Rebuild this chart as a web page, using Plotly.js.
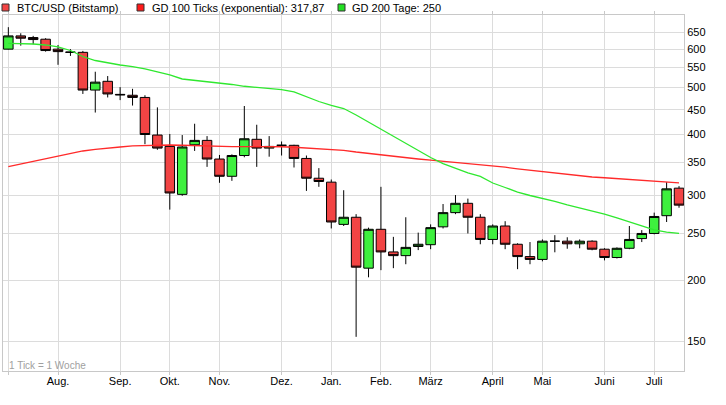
<!DOCTYPE html>
<html>
<head>
<meta charset="utf-8">
<script src="https://cdn.plot.ly/plotly-3.0.1.min.js"></script>
<style>
  html, body { margin: 0; padding: 0; background: #fff; }
  #chart { width: 726px; height: 405px; }
</style>
</head>
<body>
<div id="chart"></div>
<script>
// Weekly candles (week starting Monday), BTC/USD Bitstamp
const weeks = [
  '2014-06-30','2014-07-07','2014-07-14','2014-07-21','2014-07-28','2014-08-04','2014-08-11','2014-08-18','2014-08-25',
  '2014-09-01','2014-09-08','2014-09-15','2014-09-22','2014-09-29','2014-10-06','2014-10-13','2014-10-20','2014-10-27',
  '2014-11-03','2014-11-10','2014-11-17','2014-11-24','2014-12-01','2014-12-08','2014-12-15','2014-12-22','2014-12-29',
  '2015-01-05','2015-01-12','2015-01-19','2015-01-26','2015-02-02','2015-02-09','2015-02-16','2015-02-23','2015-03-02',
  '2015-03-09','2015-03-16','2015-03-23','2015-03-30','2015-04-06','2015-04-13','2015-04-20','2015-04-27','2015-05-04',
  '2015-05-11','2015-05-18','2015-05-25','2015-06-01','2015-06-08','2015-06-15','2015-06-22','2015-06-29','2015-07-06',
  '2015-07-13'
];
const openP  = [600,639,634,629,600,592,591,494,515,484,482,477,399,378,301,381,389,356,328,362,391,375,380,380,357,325,319,
                261,270,212,255,229,225,235,237,258,276,288.5,270,243,259,237.5,224,221,241,241,238,241,232,223,233,244,250,272,310];
const highP  = [666,647,639,632,612,600,595,539,528,501,497,482,455,401,399,421,397,363,364,458,419,397,387,381,362,341,323,
                307,274,257,312,246,270,251,261,287.5,300,295,274,261,265,238.6,240,243,248,245.5,243,242,233,234,259,254,276,319,313];
const lowP   = [599,610,614,593,557,581,485,444,477,471,459,382,372,280,299,370,343,318,321,359,343,360,362,342,306,312,256,
                259,153,203,210,212,216,231,232,256,274,250,237.5,237.5,232,211,216,219,228.6,232.5,233,230.8,220,222,232,240,249,264,282.5];
const closeP = [639,632,628,596,593,591,494,513,485,483,477,400,375,303,377,389,356,328,362,392,375,378,380,357,325,320,264,
                270,213,255,229,225,234,237.5,257,276,288.5,270,243,259,237.5,224,221,241,241,238,241,232,223,233,243,250,271,309,286];
// GD 100 Ticks (exponential) and GD 200 Tage
const ema100 = [343.3,347.8,351.9,356.1,360.4,366.4,369.9,372.6,375.2,377.0,378.8,379.7,380.2,380.6,380.1,379.2,378.4,377.9,
                377.5,377.5,377.7,377.7,377.4,376.5,375.2,374.3,373.1,371.1,368.1,365.5,362.9,360.4,358.2,356.1,354.1,352.2,
                350.2,348.7,346.9,344.8,342.5,339.9,337.5,335.1,333.2,330.8,328.8,326.9,325.7,324.5,323.4,322.3,321.2,319.7,317.87];
const sma200 = [616.9,616.3,614.8,612.0,606.7,596.2,579.4,568.5,561.8,556.5,552.3,546.5,538.3,530.7,520.7,517.3,514.8,511.6,
                507.3,503.0,499.9,497.3,495.1,490.0,479.2,467.9,459.6,452.6,438.9,424.5,411.0,397.2,384.2,371.6,358.6,348.5,
                340.4,333.2,327.7,317.7,311.0,304.4,299.4,295.4,291.0,286.2,282.1,278.1,274.2,269.1,264.0,259.0,254.2,251.7,250];
const monthTickWeeks = ['2014-06-30','2014-07-28','2014-09-01','2014-09-29','2014-10-27','2014-12-01','2014-12-29',
                        '2015-01-26','2015-02-23','2015-03-30','2015-04-27','2015-06-01','2015-06-29'];
const monthLabels = ['', 'Aug.', 'Sep.', 'Okt.', 'Nov.', 'Dez.', 'Jan.', 'Feb.', 'März', 'April', 'Mai', 'Juni', 'Juli'];
const yTickVals = [150, 200, 250, 300, 350, 400, 450, 500, 550, 600, 650];
const legendLabels = ['BTC/USD (Bitstamp)', 'GD 100 Ticks (exponential): 317,87', 'GD 200 Tage: 250'];
const footNote = '1 Tick = 1 Woche';

const FONT = 'Liberation Sans, Arial, sans-serif';
const W = 681, H = 356; // plot area px
const px = x => (x - 3) / W;
const py = y => (371 - y) / H;

const traces = [
  { type: 'scatter', mode: 'lines', x: weeks, y: ema100, line: { color: '#ff2a2a', width: 1.3 }, hoverinfo: 'skip', showlegend: false },
  { type: 'scatter', mode: 'lines', x: weeks, y: sma200, line: { color: '#2fe82f', width: 1.3 }, hoverinfo: 'skip', showlegend: false },
  { type: 'candlestick', x: weeks, open: openP, high: highP, low: lowP, close: closeP,
    increasing: { line: { color: '#000', width: 1 }, fillcolor: '#3ef03e' },
    decreasing: { line: { color: '#000', width: 1 }, fillcolor: '#f24444' },
    whiskerwidth: 0, hoverinfo: 'skip', showlegend: false }
];

const legendX = [15, 150, 350];
const squareX = [2, 137, 338];
const squareColors = ['#f24444', '#ff1a1a', '#22e022'];

const shapes = squareX.map((sx, i) => ({
  type: 'rect', xref: 'paper', yref: 'paper',
  x0: px(sx), x1: px(sx + 7), y0: py(11), y1: py(4),
  fillcolor: squareColors[i], line: { color: '#333', width: 1 }
}));

const annotations = legendLabels.map((t, i) => ({
  text: t, xref: 'paper', yref: 'paper', x: px(legendX[i]), y: py(7.5),
  xanchor: 'left', yanchor: 'middle', showarrow: false,
  font: { family: FONT, size: 11, color: '#000' }
}));
annotations.push({
  text: footNote, xref: 'paper', yref: 'paper', x: px(7), y: py(365),
  xanchor: 'left', yanchor: 'middle', showarrow: false,
  font: { family: FONT, size: 10, color: '#a0a0a0' }
});

const layout = {
  width: 726, height: 405,
  margin: { l: 3, r: 42, t: 15, b: 34, pad: 0 },
  paper_bgcolor: '#fff', plot_bgcolor: '#fff',
  font: { family: FONT, size: 11, color: '#000' },
  showlegend: false,
  boxgap: 0.1, boxgroupgap: 0.15,
  xaxis: {
    type: 'category', range: [-0.43, 54.4],
    tickmode: 'array', tickvals: monthTickWeeks, ticktext: monthLabels,
    showgrid: true, gridcolor: '#dcdcdc', gridwidth: 1,
    ticks: 'outside', ticklen: 3, tickcolor: '#c8c8c8', ticklabelstandoff: -3,
    showline: true, linecolor: '#c8c8c8', linewidth: 1, mirror: 'ticks',
    rangeslider: { visible: false }, zeroline: false,
    tickfont: { family: FONT, size: 11, color: '#000' }
  },
  yaxis: {
    type: 'log', range: [2.1142, 2.8486], side: 'right',
    tickmode: 'array', tickvals: yTickVals, ticktext: yTickVals.map(String),
    showgrid: true, gridcolor: '#dcdcdc', gridwidth: 1,
    ticks: '', showline: true, linecolor: '#c8c8c8', linewidth: 1, mirror: true,
    zeroline: false,
    tickfont: { family: FONT, size: 11, color: '#000' }
  },
  shapes: shapes,
  annotations: annotations
};

Plotly.newPlot('chart', traces, layout, { staticPlot: true, displayModeBar: false });
</script>
</body>
</html>
